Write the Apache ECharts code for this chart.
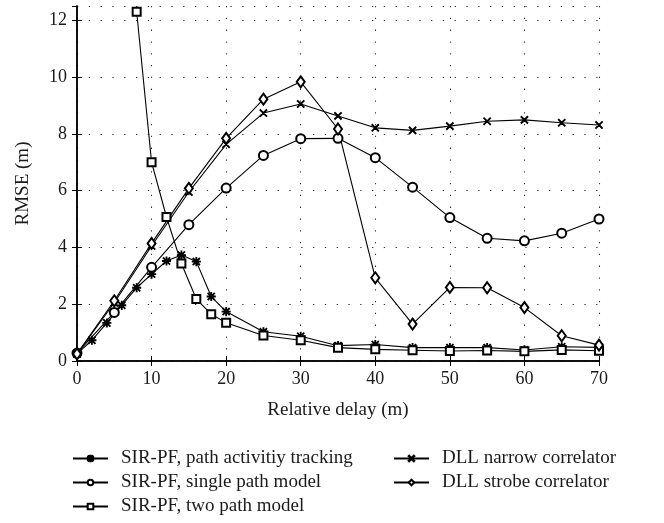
<!DOCTYPE html>
<html>
<head>
<meta charset="utf-8">
<script src="https://cdn.jsdelivr.net/npm/echarts@6/dist/echarts.min.js"></script>
<style>
  html, body { margin: 0; padding: 0; background: #fff; }
  #chart { width: 664px; height: 523px; }
</style>
</head>
<body>
<div id="chart"></div>
<script>
// Relative delay (m) sample points
const delayFine = [0, 2, 4, 6, 8, 10, 12, 14, 16, 18, 20, 25, 30, 35, 40, 45, 50, 55, 60, 65, 70];
const delayTwoPath = [8, 10, 12, 14, 16, 18, 20, 25, 30, 35, 40, 45, 50, 55, 60, 65, 70];
const delayCoarse = [0, 5, 10, 15, 20, 25, 30, 35, 40, 45, 50, 55, 60, 65, 70];

// RMSE (m) for each estimator
const pathActivity = [0.25, 0.73, 1.34, 1.96, 2.58, 3.06, 3.52, 3.73, 3.5, 2.27, 1.74, 1.03, 0.87, 0.54, 0.58, 0.47, 0.47, 0.47, 0.39, 0.5, 0.48];
const twoPath = [12.3, 7.0, 5.07, 3.43, 2.18, 1.65, 1.35, 0.9, 0.73, 0.47, 0.41, 0.38, 0.35, 0.37, 0.34, 0.39, 0.36];
const singlePath = [0.28, 1.71, 3.3, 4.8, 6.09, 7.24, 7.83, 7.84, 7.16, 6.12, 5.05, 4.32, 4.23, 4.5, 5.0];
const narrowCorr = [0.25, 2.05, 4.05, 5.95, 7.63, 8.73, 9.05, 8.63, 8.21, 8.12, 8.27, 8.44, 8.49, 8.39, 8.31];
const strobeCorr = [0.25, 2.12, 4.14, 6.08, 7.84, 9.22, 9.83, 8.17, 2.93, 1.3, 2.59, 2.58, 1.88, 0.89, 0.56];

const seriesNames = [
  'SIR-PF, path activitiy tracking',
  'SIR-PF, single path model',
  'SIR-PF, two path model',
  'DLL narrow correlator',
  'DLL strobe correlator'
];

const xTicks = [0, 10, 20, 30, 40, 50, 60, 70];
const yTicks = [0, 2, 4, 6, 8, 10, 12];

// marker shapes built from thin bars
const asterisk = 'path://M4.55 0L5.45 0L5.45 10L4.55 10Z M0 4.55L10 4.55L10 5.45L0 5.45Z ' +
  'M1.32 0.68L9.32 8.68L8.68 9.32L0.68 1.32Z M8.68 0.68L9.32 1.32L1.32 9.32L0.68 8.68Z';
const crossMark = 'path://M1.35 0.65L9.35 8.65L8.65 9.35L0.65 1.35Z M8.65 0.65L9.35 1.35L1.35 9.35L0.65 8.65Z';

const pair = (xs, ys) => xs.map((x, i) => [x, ys[i]]);

const FONT = 'Liberation Serif';
const TXT = '#1a1a1a';

function lineSeries(name, xs, ys, symbol, size) {
  return {
    name: name,
    type: 'line',
    data: pair(xs, ys),
    symbol: symbol,
    symbolSize: size,
    showAllSymbol: true,
    lineStyle: { color: '#000', width: 1.1 },
    itemStyle: { color: '#000', borderColor: '#000', borderWidth: 1.1 },
    emphasis: { disabled: true },
    animation: false,
    z: 3
  };
}

const gridLine = { show: true, lineStyle: { color: '#333', width: 1.1, type: [1.3, 10.5] } };
const tickIn = { show: true, inside: true, length: 5, lineStyle: { color: '#000', width: 1 } };
const axisLn = { show: true, lineStyle: { color: '#000', width: 1.5 } };

const legendText = { fontFamily: FONT, fontSize: 19, color: TXT, padding: [0, 0, 0, 8] };

const chart = echarts.init(document.getElementById('chart'), null, { renderer: 'canvas' });
chart.setOption({
  backgroundColor: '#fff',
  animation: false,
  grid: { left: 77, right: 65, top: 6, bottom: 162, containLabel: false },
  xAxis: [
    {
      type: 'value', min: 0, max: 70, interval: 10, position: 'bottom',
      name: 'Relative delay (m)', nameLocation: 'middle', nameGap: 40,
      nameTextStyle: { fontFamily: FONT, fontSize: 19, color: TXT },
      axisLine: axisLn, axisTick: tickIn, splitLine: gridLine,
      axisLabel: { fontFamily: FONT, fontSize: 18, color: TXT, margin: 9,
        formatter: v => xTicks.includes(v) ? String(v) : '' }
    },
    {
      type: 'value', min: 0, max: 70, interval: 10, position: 'top',
      axisLine: axisLn, axisTick: tickIn, splitLine: { show: false },
      axisLabel: { show: false }
    }
  ],
  yAxis: [
    {
      type: 'value', min: 0, max: 12.5, interval: 2, position: 'left',
      name: 'RMSE (m)', nameLocation: 'middle', nameGap: 44, nameRotate: 90,
      nameTextStyle: { fontFamily: FONT, fontSize: 19, color: TXT },
      axisLine: axisLn, axisTick: tickIn, splitLine: gridLine,
      axisLabel: { fontFamily: FONT, fontSize: 18, color: TXT, margin: 10, showMaxLabel: false,
        formatter: v => yTicks.includes(v) ? String(v) : '' }
    },
    {
      type: 'value', min: 0, max: 12.5, interval: 2, position: 'right',
      axisLine: axisLn, axisTick: tickIn, splitLine: { show: false },
      axisLabel: { show: false }
    }
  ],
  legend: [
    {
      data: seriesNames.slice(0, 3), orient: 'vertical', left: 67, top: 444,
      itemWidth: 35, itemHeight: 7, itemGap: 5,
      textStyle: legendText, selectedMode: false
    },
    {
      data: seriesNames.slice(3), orient: 'vertical', left: 388, top: 444,
      itemWidth: 35, itemHeight: 7, itemGap: 5,
      textStyle: legendText, selectedMode: false
    }
  ],
  series: [
    lineSeries(seriesNames[0], delayFine, pathActivity, asterisk, 8),
    lineSeries(seriesNames[1], delayCoarse, singlePath, 'emptyCircle', 9),
    lineSeries(seriesNames[2], delayTwoPath, twoPath, 'emptyRect', 8),
    lineSeries(seriesNames[3], delayCoarse, narrowCorr, crossMark, 7),
    lineSeries(seriesNames[4], delayCoarse, strobeCorr, 'emptyDiamond', [8, 11])
  ]
});
</script>
</body>
</html>
